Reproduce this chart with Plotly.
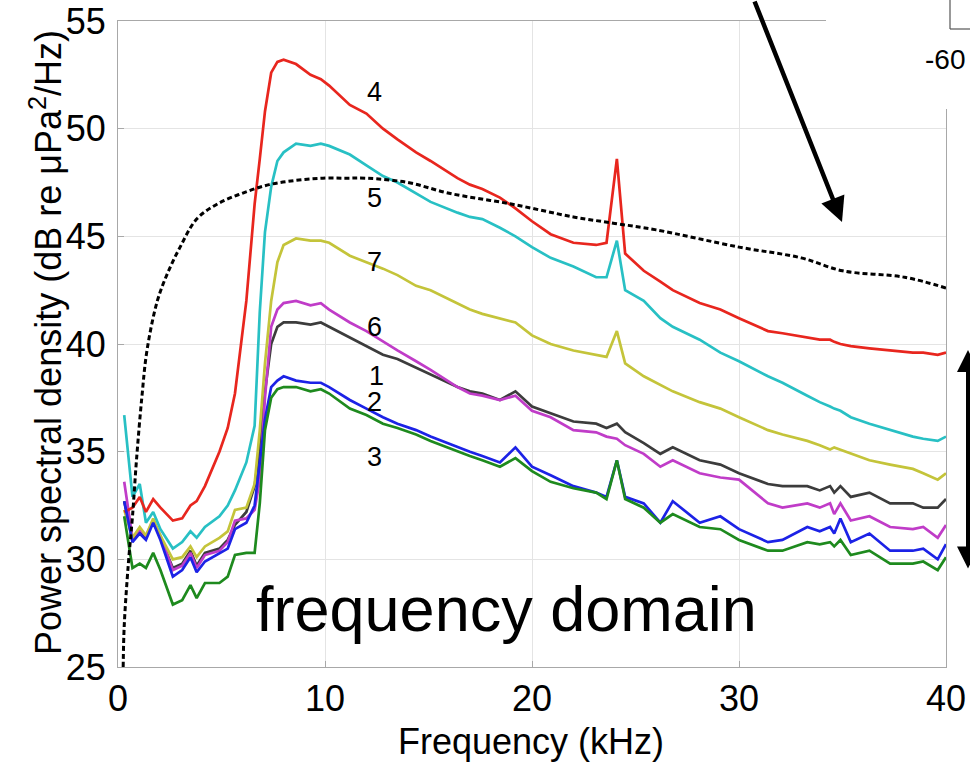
import plotly.graph_objects as go

# ---------------- data ----------------
freq_khz = [0.3, 0.7, 1.05, 1.35, 1.7, 2.05, 2.65, 3.1, 3.5, 3.8, 4.2, 4.9, 5.3, 5.65, 6.2, 6.6, 6.85,
            7.1, 7.4, 7.7, 8.0, 8.6, 9.3, 9.8, 10.2, 11.2, 12.0, 12.8, 13.5, 14.4, 15.1, 16.4, 17.0,
            17.6, 18.45, 19.2, 20.0, 20.9, 22.0, 23.1, 23.6, 24.1, 24.5, 25.4, 26.2, 26.8, 28.1, 29.1,
            30.0, 31.4, 32.1, 33.3, 33.9, 34.4, 34.6, 34.9, 35.4, 36.3, 37.3, 38.4, 38.9, 39.6, 40.0]

psd_4 = [32.2, 32.4, 32.9, 32.2, 32.8, 32.4, 31.8, 31.9, 32.5, 32.7, 33.4, 35.0, 36.1, 37.7, 42.0, 46.5, 48.6,
         50.8, 52.6, 53.1, 53.2, 53.0, 52.5, 52.3, 52.0, 51.1, 50.7, 50.0, 49.5, 48.9, 48.5, 47.7, 47.4,
         47.2, 46.8, 46.3, 45.7, 45.1, 44.7, 44.6, 44.7, 48.6, 44.2, 43.4, 42.9, 42.5, 41.9, 41.6,
         41.2, 40.6, 40.5, 40.3, 40.2, 40.2, 40.1, 40.0, 39.9, 39.8, 39.7, 39.6, 39.6, 39.5, 39.6]

psd_5 = [36.7, 32.9, 33.5, 31.7, 32.2, 31.4, 30.5, 30.8, 31.3, 31.0, 31.5, 32.0, 32.5, 33.2, 34.5, 36.2, 41.5,
         45.2, 47.3, 48.5, 48.9, 49.3, 49.2, 49.3, 49.2, 48.8, 48.3, 47.8, 47.5, 47.0, 46.6, 46.1, 45.9,
         45.8, 45.4, 45.0, 44.5, 44.0, 43.6, 43.1, 43.1, 44.8, 42.5, 42.0, 41.2, 40.8, 40.2, 39.6,
         39.2, 38.5, 38.2, 37.6, 37.3, 37.1, 37.0, 36.9, 36.6, 36.3, 36.0, 35.7, 35.6, 35.5, 35.7]

psd_7 = [32.3, 31.0, 31.5, 31.1, 31.9, 31.1, 30.0, 30.1, 30.6, 30.1, 30.6, 31.0, 31.3, 32.3, 32.4, 33.5, 36.0,
         39.1, 42.0, 43.8, 44.6, 44.9, 44.8, 44.8, 44.7, 44.1, 43.8, 43.5, 43.2, 42.7, 42.5, 41.9, 41.6,
         41.4, 41.2, 41.0, 40.4, 40.0, 39.7, 39.5, 39.4, 40.6, 39.1, 38.5, 38.1, 37.8, 37.3, 37.0,
         36.6, 36.0, 35.8, 35.5, 35.3, 35.1, 35.2, 35.1, 34.9, 34.6, 34.4, 34.2, 34.0, 33.7, 34.0]

psd_6 = [33.6, 31.0, 31.4, 31.1, 31.8, 31.1, 29.5, 29.7, 30.3, 29.6, 30.2, 30.4, 30.8, 31.8, 31.9, 32.3, 33.7,
         37.5, 40.8, 41.6, 41.9, 42.0, 41.8, 41.9, 41.6, 41.0, 40.6, 40.1, 39.7, 39.2, 38.8, 38.0, 37.7,
         37.6, 37.4, 37.6, 36.9, 36.6, 36.0, 35.9, 35.7, 35.6, 35.3, 34.9, 34.3, 34.6, 34.0, 33.8,
         33.7, 32.6, 32.4, 32.6, 32.4, 32.6, 32.1, 32.6, 31.8, 32.0, 31.5, 31.4, 31.5, 31.0, 31.6]

psd_1 = [32.7, 30.9, 31.3, 31.0, 31.8, 31.0, 29.6, 29.8, 30.4, 29.7, 30.3, 30.5, 30.9, 31.6, 32.2, 33.4, 35.2,
         37.8, 40.0, 40.8, 41.0, 41.0, 40.9, 41.0, 40.8, 40.3, 39.9, 39.5, 39.3, 38.9, 38.6, 38.0, 37.8,
         37.7, 37.4, 37.8, 37.1, 36.8, 36.4, 36.3, 36.1, 36.3, 35.9, 35.4, 34.9, 35.2, 34.6, 34.4,
         34.0, 33.5, 33.4, 33.4, 33.2, 33.4, 33.1, 33.4, 32.9, 33.1, 32.6, 32.6, 32.4, 32.4, 32.8]

psd_2 = [32.7, 30.8, 31.2, 30.9, 31.7, 30.9, 29.2, 29.5, 30.1, 29.4, 29.9, 30.3, 30.5, 31.4, 31.7, 32.5, 34.5,
         36.5, 38.0, 38.3, 38.5, 38.3, 38.2, 38.2, 38.0, 37.4, 37.0, 36.6, 36.3, 36.0, 35.7, 35.2, 35.0,
         34.8, 34.5, 35.2, 34.3, 33.9, 33.4, 33.1, 32.9, 34.6, 32.9, 32.6, 31.7, 32.7, 31.7, 32.0,
         31.4, 30.8, 30.9, 31.5, 31.3, 31.5, 31.2, 31.9, 30.8, 31.2, 30.4, 30.4, 30.5, 30.0, 30.7]

psd_3 = [32.0, 29.6, 29.8, 29.6, 30.3, 29.5, 27.9, 28.1, 28.8, 28.2, 28.9, 28.9, 29.2, 30.2, 30.3, 30.3, 32.6,
         36.0, 37.5, 37.9, 38.0, 38.0, 37.8, 37.9, 37.7, 37.0, 36.7, 36.3, 36.1, 35.8, 35.5, 35.0, 34.8,
         34.6, 34.3, 34.7, 34.1, 33.6, 33.3, 33.1, 32.8, 34.6, 32.8, 32.4, 31.7, 32.1, 31.5, 31.4,
         30.9, 30.4, 30.4, 30.8, 30.7, 30.8, 30.6, 30.9, 30.2, 30.4, 29.8, 29.8, 29.9, 29.5, 30.1]

dash_f = [0.25, 0.3, 0.5, 0.7, 0.9, 1.15, 1.4, 1.9, 2.4, 3.0, 3.8, 4.8, 6.0, 7.3, 8.6, 9.9, 11.0, 12.0,
          14.0, 16.0, 19.0, 22.0, 24.0, 26.0, 30.0, 33.0, 35.0, 38.0, 40.0]
dash_db = [25.0, 26.9, 29.8, 32.0, 34.7, 37.5, 39.7, 42.0, 43.3, 44.5, 45.8, 46.5, 47.0, 47.4, 47.6, 47.7,
           47.7, 47.7, 47.5, 47.0, 46.5, 45.9, 45.6, 45.3, 44.5, 44.0, 43.4, 43.1, 42.6]

series_labels = ["4", "5", "7", "6", "1", "2", "3"]
label_x = [12.37, 12.37, 12.37, 12.37, 12.5, 12.4, 12.4]
label_y = [51.7, 46.8, 43.8, 40.8, 38.5, 37.3, 34.75]

x_ticks = [0, 10, 20, 30, 40]
y_ticks = [25, 30, 35, 40, 45, 50, 55]

# ---------------- figure ----------------
FONT = "Liberation Sans, Arial, Helvetica, sans-serif"
series = [
    (psd_1, "#3c3c3c"),
    (psd_6, "#c03cc8"),
    (psd_7, "#c4c43a"),
    (psd_5, "#28c0c4"),
    (psd_4, "#e8261e"),
    (psd_2, "#1c22e6"),
    (psd_3, "#1e8a1e"),
]

fig = go.Figure()
for vals, col in series:
    fig.add_trace(go.Scatter(x=freq_khz, y=vals, mode="lines",
                             line=dict(color=col, width=2.7), showlegend=False))

fig.add_trace(go.Scatter(x=dash_f, y=dash_db, mode="lines", line_shape="spline",
                         line=dict(color="black", width=3, dash="5px,3px"), showlegend=False))

axis_common = dict(showgrid=True, gridcolor="#e4e4e4", gridwidth=1.2,
                   showline=True, linecolor="#a8a8a8", linewidth=1.2, mirror=True,
                   ticks="inside", ticklen=6, tickcolor="#a8a8a8",
                   tickfont=dict(family=FONT, size=36, color="black"), zeroline=False,
                   automargin=False)

fig.update_layout(
    width=970, height=764,
    margin=dict(l=118, r=24, t=21, b=97, autoexpand=False),
    paper_bgcolor="white", plot_bgcolor="white",
    xaxis=dict(range=[0, 40], tickvals=x_ticks, ticktext=[str(v) for v in x_ticks],
               ticklabelstandoff=0, **axis_common),
    yaxis=dict(range=[25, 55], tickvals=y_ticks, ticktext=[str(v) for v in y_ticks],
               ticklabelstandoff=4, **axis_common),
)

def px_x(px):
    return (px - 118) / 828

def px_y(py):
    return (667 - py) / 646

annotations = []
for t, lx, ly in zip(series_labels, label_x, label_y):
    annotations.append(dict(x=lx, y=ly, xref="x", yref="y", text=t, showarrow=False,
                            font=dict(family=FONT, size=27, color="black")))

annotations += [
    dict(x=px_x(531), y=px_y(764), xref="paper", yref="paper", xanchor="center", yanchor="bottom",
         text="Frequency (kHz)", showarrow=False, font=dict(family=FONT, size=36, color="black")),
    dict(x=px_x(46), y=px_y(343), xref="paper", yref="paper", xanchor="center", yanchor="middle",
         text="Power spectral density (dB re \u03bcPa<sup>2</sup>/Hz)", textangle=-90,
         showarrow=False, font=dict(family=FONT, size=36, color="black")),
    dict(x=18.75, y=27.7, xref="x", yref="y", xanchor="center", yanchor="middle",
         text="frequency domain", showarrow=False,
         font=dict(family=FONT, size=63, color="black")),
    # diagonal arrow from top
    dict(x=px_x(842), y=px_y(222), xref="paper", yref="paper",
         ax=-88, ay=-232, axref="pixel", ayref="pixel", text="", showarrow=True,
         arrowhead=2, arrowsize=1.1, arrowwidth=4.5, arrowcolor="black"),
    # double headed arrow at right edge
    dict(x=px_x(968), y=px_y(350), xref="paper", yref="paper",
         ax=0, ay=220, axref="pixel", ayref="pixel", text="", showarrow=True,
         arrowhead=2, startarrowhead=2, arrowside="end+start", arrowsize=1.1,
         startarrowsize=1.1, arrowwidth=4, arrowcolor="black"),
    # remnant of neighbouring panel
    dict(x=px_x(945), y=px_y(59), xref="paper", yref="paper", xanchor="center", yanchor="middle",
         text="-60", showarrow=False, font=dict(family=FONT, size=28, color="black")),
]
fig.update_layout(annotations=annotations)

shapes = [
    dict(type="rect", xref="paper", yref="paper", x0=px_x(826), x1=px_x(980),
         y0=px_y(109), y1=px_y(-10), fillcolor="white", line=dict(width=0), layer="above"),
    dict(type="line", xref="paper", yref="paper", x0=px_x(950), x1=px_x(950),
         y0=px_y(-10), y1=px_y(29), line=dict(color="#555555", width=1.2), layer="above"),
    dict(type="line", xref="paper", yref="paper", x0=px_x(950), x1=px_x(980),
         y0=px_y(29), y1=px_y(29), line=dict(color="#555555", width=1.2), layer="above"),
]
fig.update_layout(shapes=shapes)

fig.write_html("out.html")
